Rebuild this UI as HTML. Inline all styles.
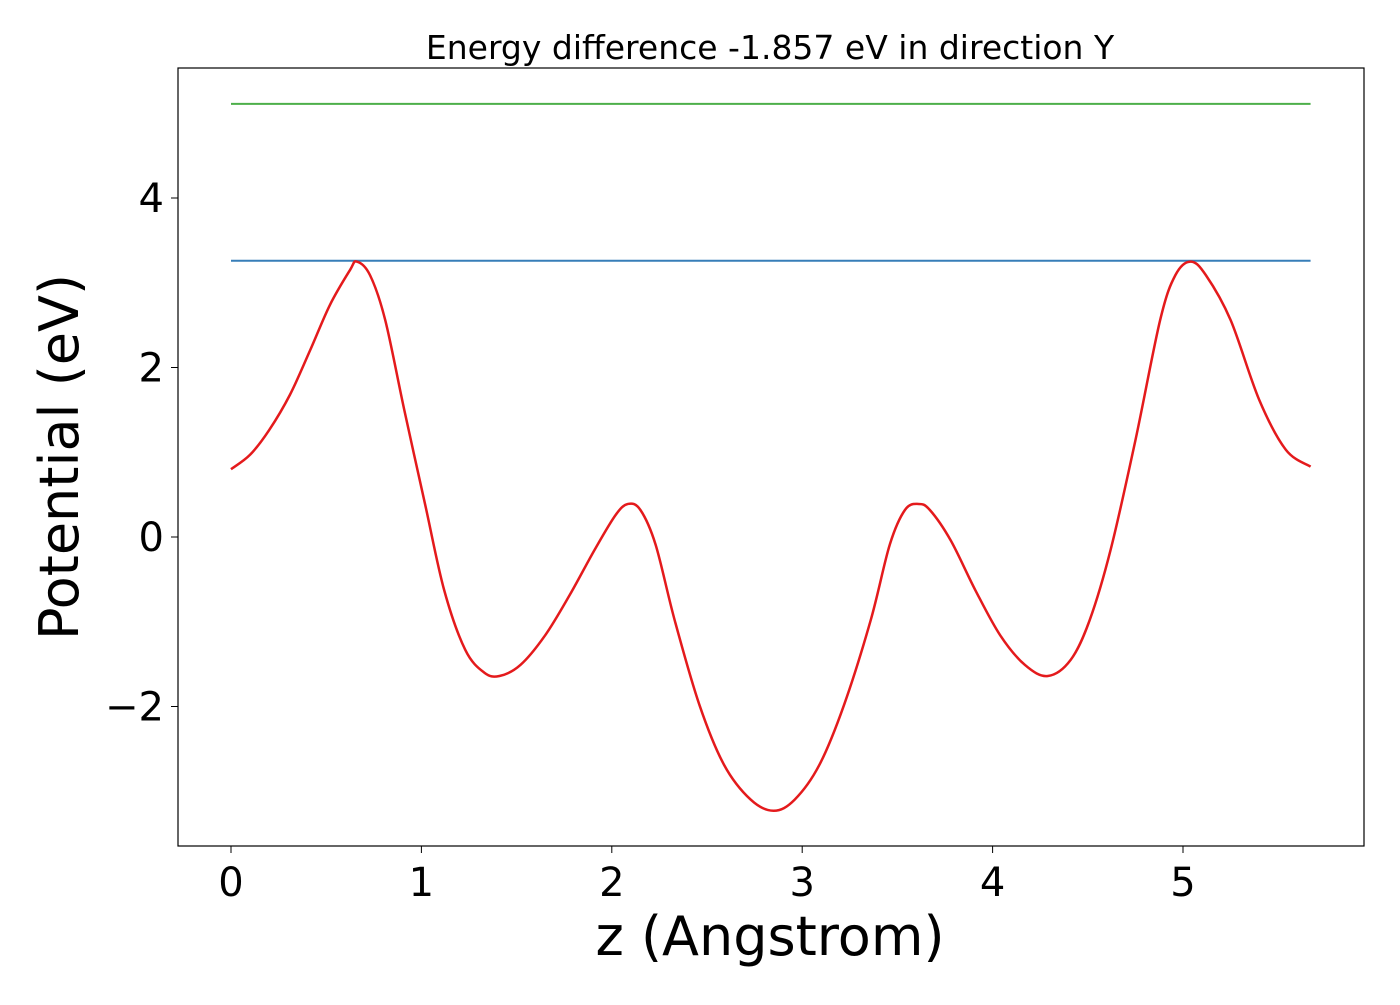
<!DOCTYPE html>
<html><head><meta charset="utf-8"><style>
html,body{margin:0;padding:0;background:#fff;}
svg text{font-family:"DejaVu Sans","Liberation Sans",sans-serif;}
</style></head><body>
<svg id="chart" width="1400" height="1000" xmlns="http://www.w3.org/2000/svg">
<rect x="0" y="0" width="1400" height="1000" fill="#fff"/>
<text x="770" y="59" font-size="33" text-anchor="middle">Energy difference -1.857 eV in direction Y</text>
<g id="plot"></g>
<rect x="178" y="68" width="1186" height="778" fill="none" stroke="#000" stroke-width="1.2"/>
<g id="xticks"></g>
<g id="yticks"></g>
<text x="770" y="955" font-size="54" text-anchor="middle">z (Angstrom)</text>
<text transform="translate(78,457) rotate(-90)" font-size="54" text-anchor="middle">Potential (eV)</text>
</svg>
<script>
const zVals=[0,0.1,0.2,0.31,0.415,0.52,0.625,0.66,0.73,0.81,0.91,1.02,1.12,1.23,1.33,1.41,1.52,1.65,1.78,1.91,2.02,2.085,2.15,2.23,2.33,2.46,2.59,2.73,2.85,2.96,3.09,3.22,3.36,3.46,3.54,3.61,3.67,3.78,3.91,4.04,4.17,4.29,4.41,4.51,4.62,4.75,4.88,4.96,5.04,5.12,5.25,5.4,5.54,5.67];
const potential=[0.80,0.97,1.26,1.68,2.2,2.74,3.15,3.25,3.09,2.56,1.5,0.38,-0.63,-1.33,-1.6,-1.64,-1.51,-1.16,-0.68,-0.15,0.26,0.39,0.32,-0.09,-0.98,-1.98,-2.69,-3.1,-3.23,-3.1,-2.69,-1.98,-0.98,-0.09,0.32,0.39,0.32,-0.04,-0.63,-1.16,-1.51,-1.64,-1.45,-0.98,-0.15,1.14,2.56,3.09,3.25,3.09,2.56,1.62,1.03,0.83];
const blueLevel=3.26;
const greenLevel=5.11;
const xTicks=[0,1,2,3,4,5];
const yTicks=[-2,0,2,4];
const xs=z=>231+z*190.4;
const ys=v=>537-v*84.75;
const NS="http://www.w3.org/2000/svg";
const plot=document.getElementById('plot');
function hline(v,color,name){
  const l=document.createElementNS(NS,'line');
  l.setAttribute('x1',xs(zVals[0]));l.setAttribute('x2',xs(zVals[zVals.length-1]));
  l.setAttribute('y1',ys(v));l.setAttribute('y2',ys(v));
  l.setAttribute('stroke',color);l.setAttribute('stroke-width','2');
  
  
  plot.appendChild(l);
}
hline(greenLevel,'#4daf4a','green-level-line');
hline(blueLevel,'#377eb8','blue-level-line');
const p=document.createElementNS(NS,'path');
let d='';
// Catmull-Rom smoothing
const pts=zVals.map((z,i)=>[xs(z),ys(potential[i])]);
d='M'+pts[0][0]+','+pts[0][1];
for(let i=0;i<pts.length-1;i++){
  const p0=pts[Math.max(i-1,0)],p1=pts[i],p2=pts[i+1],p3=pts[Math.min(i+2,pts.length-1)];
  const c1=[p1[0]+(p2[0]-p0[0])/6,p1[1]+(p2[1]-p0[1])/6];
  const c2=[p2[0]-(p3[0]-p1[0])/6,p2[1]-(p3[1]-p1[1])/6];
  d+=` C${c1[0]},${c1[1]} ${c2[0]},${c2[1]} ${p2[0]},${p2[1]}`;
}
p.setAttribute('d',d);p.setAttribute('fill','none');p.setAttribute('stroke','#e41a1c');p.setAttribute('stroke-width','2.5');


plot.appendChild(p);
const xg=document.getElementById('xticks');
xTicks.forEach(t=>{
  const l=document.createElementNS(NS,'line');
  l.setAttribute('x1',xs(t));l.setAttribute('x2',xs(t));l.setAttribute('y1',846);l.setAttribute('y2',853);l.setAttribute('stroke','#000');
  
  
  xg.appendChild(l);
  const tx=document.createElementNS(NS,'text');
  tx.setAttribute('x',xs(t));tx.setAttribute('y',896);tx.setAttribute('font-size','40');tx.setAttribute('text-anchor','middle');
  tx.textContent=t;
  
  
  xg.appendChild(tx);
});
const yg=document.getElementById('yticks');
yTicks.forEach(t=>{
  const l=document.createElementNS(NS,'line');
  l.setAttribute('x1',171);l.setAttribute('x2',178);l.setAttribute('y1',ys(t));l.setAttribute('y2',ys(t));l.setAttribute('stroke','#000');
  
  
  yg.appendChild(l);
  const tx=document.createElementNS(NS,'text');
  tx.setAttribute('x',164);tx.setAttribute('y',ys(t)+14);tx.setAttribute('font-size','40');tx.setAttribute('text-anchor','end');
  tx.textContent=t<0?'\u2212'+Math.abs(t):t;
  
  
  yg.appendChild(tx);
});
</script>
</body></html>
